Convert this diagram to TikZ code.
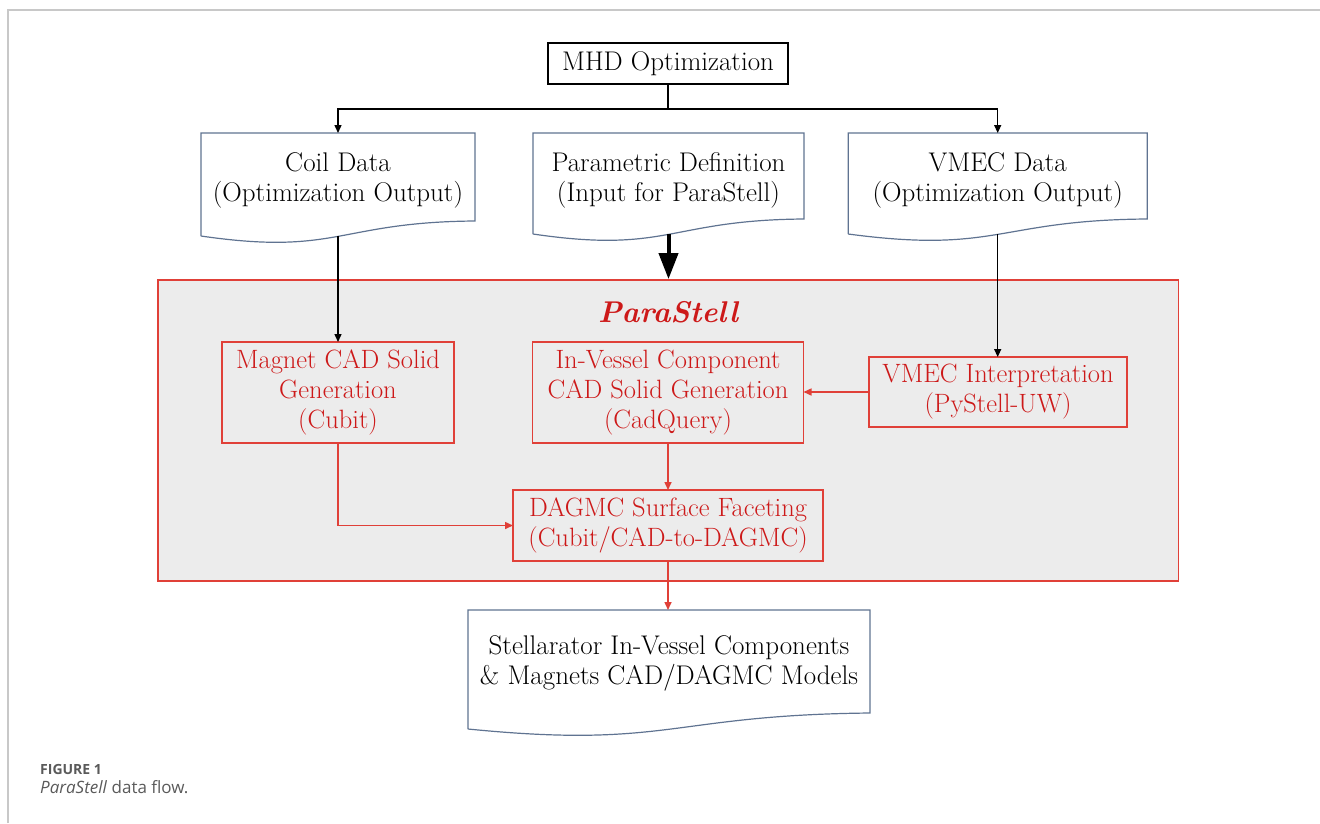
\documentclass[tikz,border=0pt]{standalone}
\usepackage{fontspec}
\newfontfamily\capfont{Open Sans}
\usetikzlibrary{arrows.meta}
\definecolor{psred}{RGB}{205,25,25}
\definecolor{psline}{RGB}{224,64,56}
\definecolor{psfill}{RGB}{236,236,236}
\definecolor{docblue}{RGB}{95,115,145}
\definecolor{capgray}{RGB}{90,90,90}
\definecolor{framegray}{RGB}{200,200,200}
\tikzset{
  boxtext/.style={font=\fontsize{27}{30}\selectfont, align=center, inner sep=0pt, outer sep=0pt},
  mhdbox/.style={boxtext, draw, line width=1.4pt},
  docline/.style={draw=docblue, line width=1.2pt, line join=miter},
  redbox/.style={boxtext, font=\fontsize{26.5}{30}\selectfont, draw=psline, text=psred, line width=1.8pt},
  flow/.style={line width=1.4pt, -{Triangle[length=8pt,width=7pt]}},
  bigflow/.style={line width=4pt, -{Triangle[length=26pt,width=19pt]}},
  redflow/.style={psline, line width=1.5pt, -{Triangle[length=8pt,width=7pt]}}
}
% wavy bottom of a document node: name, left drop, right rise
\newcommand{\docshape}[3]{%
  \draw[docline] ([yshift=-#2]#1.south west) -- (#1.north west) -- (#1.north east)
    -- ([yshift=#3]#1.south east)
    .. controls ([yshift={14-#2}]#1.south) and ([yshift={-#2-20}]#1.south) .. ([yshift=-#2]#1.south west);
  \coordinate (#1-b) at ([yshift=-#2]#1.south);}
\begin{document}
\begin{tikzpicture}
    [x=1pt,y=-1pt]
    \useasboundingbox (0,0) rectangle (1320,823);
    %page frame
    \draw[framegray, line width=2pt] (7.5,823) -- (7.5,9.5) -- (1320,9.5);
    %top box
    \node[mhdbox, minimum width=240, minimum height=41] (mhd) at (668,63.5) {MHD Optimization};
    %documents
    \node[boxtext, minimum width=274, minimum height=94] (coil) at (338,180) {Coil Data\\(Optimization Output)};
    \node[boxtext, minimum width=271, minimum height=94] (param) at (668.5,180) {Parametric Definition\\(Input for ParaStell)};
    \node[boxtext, minimum width=299, minimum height=94] (vmec) at (997.7,180) {VMEC Data\\(Optimization Output)};
    \docshape{coil}{9}{6}
    \docshape{param}{7}{8}
    \docshape{vmec}{7}{8}
    \coordinate (split) at (668,109);
    \draw[line width=1.4pt] (mhd.south) -- (split);
    \draw[flow] (split) -| (coil.north);
    \draw[flow] (split) -| (vmec.north);
    %ParaStell
    \node[draw=psline, fill=psfill, line width=1.8pt, minimum width=1020.5, minimum height=301, inner sep=0pt] (parastell) at (668.25,430.5) {};
    \node[font=\fontsize{30}{36}\selectfont\bfseries\itshape, text=psred] (title) at (668,312) {ParaStell};
    \node[redbox, minimum width=232, minimum height=101] (magnet) at (338,392.5) {Magnet CAD Solid\\Generation\\(Cubit)};
    \node[redbox, minimum width=271, minimum height=101] (invessel) at (668,392.5) {In-Vessel Component\\CAD Solid Generation\\(CadQuery)};
    \node[redbox, minimum width=258, minimum height=70] (vmecint) at (998,392) {VMEC Interpretation\\(PyStell-UW)};
    \node[redbox, minimum width=310, minimum height=71] (dagmc) at (668,525.5) {DAGMC Surface Faceting\\(Cubit/CAD-to-DAGMC)};
    \draw[flow] (coil-b) -- (magnet.north);
    \draw[bigflow] (param-b) -- (param-b |- parastell.north);
    \draw[flow] (vmec-b) -- (vmec-b |- vmecint.north);
    \draw[redflow] (vmecint.west) -- (vmecint.west -| invessel.east);
    \draw[redflow] (invessel.south) -- (dagmc.north);
    \draw[redflow] (magnet.south) |- (dagmc.west);
    %output
    \node[boxtext, minimum width=402, minimum height=106] (output) at (669,663) {Stellarator In-Vessel Components\\\& Magnets CAD/DAGMC Models};
    \docshape{output}{13}{3}
    \draw[redflow] (dagmc.south) -- (dagmc.south |- output.north);
    %caption
    \node[anchor=base west, inner sep=0pt, font=\capfont\fontsize{14}{16}\selectfont\bfseries, text=capgray] (fig) at (40,774) {FIGURE 1};
    \node[anchor=base west, inner sep=0pt, font=\capfont\fontsize{17}{20}\selectfont, text=capgray] (capt) at (40,793) {\textit{ParaStell} data flow.};
\end{tikzpicture}
\end{document}
